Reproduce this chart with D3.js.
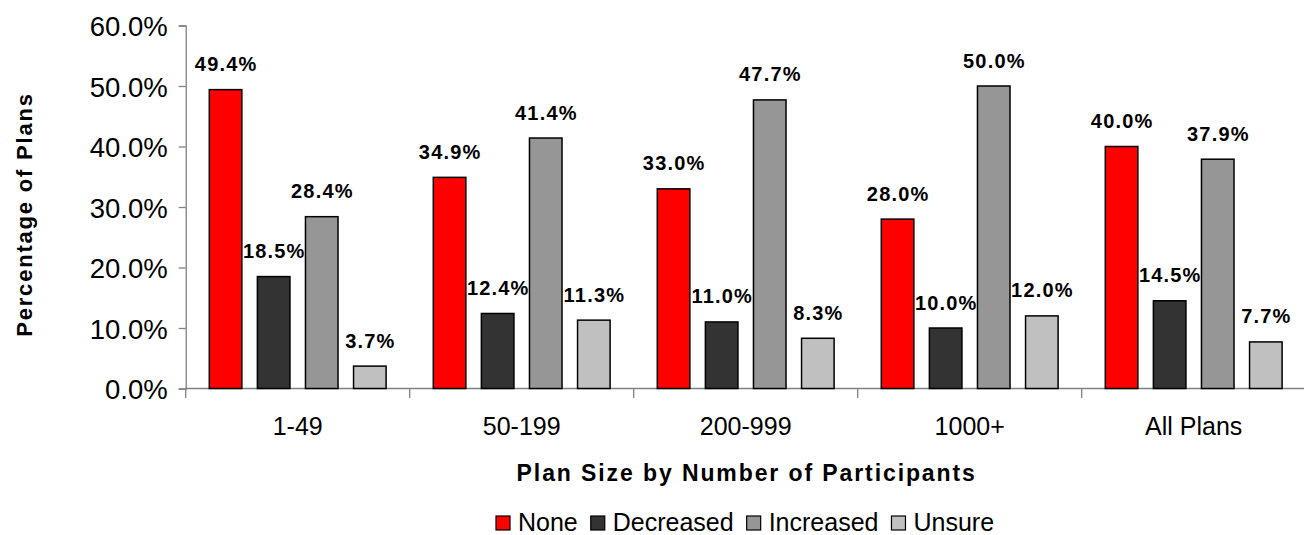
<!DOCTYPE html>
<html>
<head>
<meta charset="utf-8">
<script src="https://cdn.jsdelivr.net/npm/d3@7"></script>
<style>
  html, body { margin: 0; padding: 0; background: #fff; }
  svg { display: block; }
  text { font-family: "Liberation Sans", Arial, sans-serif; fill: #000; }
</style>
</head>
<body>
<svg id="chart" width="1304" height="535"></svg>
<script>
const categories = ["1-49", "50-199", "200-999", "1000+", "All Plans"];
const seriesNames = ["None", "Decreased", "Increased", "Unsure"];
const noneValues = [49.4, 34.9, 33.0, 28.0, 40.0];
const decreasedValues = [18.5, 12.4, 11.0, 10.0, 14.5];
const increasedValues = [28.4, 41.4, 47.7, 50.0, 37.9];
const unsureValues = [3.7, 11.3, 8.3, 12.0, 7.7];
const seriesColors = ["#FF0000", "#333333", "#969696", "#C0C0C0"];
const yTicks = [0, 10, 20, 30, 40, 50, 60];
const xTitle = "Plan Size by Number of Participants";
const yTitle = "Percentage of Plans";

(function () {
const seriesValues = [noneValues, decreasedValues, increasedValues, unsureValues];
const rows = categories.map((c, i) => ({
  cat: c,
  vals: seriesNames.map((s, j) => ({ key: s, value: seriesValues[j][i], color: seriesColors[j] }))
}));

const svg = d3.select("#chart");
const pLeft = 185.7, pRight = 1305.7, pTop = 25.5, pBottom = 388.5;

const x0 = d3.scaleBand().domain(categories).range([pLeft, pRight]).padding(0);
const bw = x0.bandwidth();
const x1 = d3.scaleBand().domain(seriesNames).range([23.6, bw - 23.6]).paddingInner(0.323).paddingOuter(0);
const y = d3.scaleLinear().domain([0, 60]).range([pBottom, pTop]);

// Y axis
const yAxis = svg.append("g").attr("transform", `translate(${pLeft},0)`)
  .call(d3.axisLeft(y).tickValues(yTicks).tickFormat(d => d.toFixed(1) + "%").tickSize(7).tickPadding(11));
yAxis.select(".domain").attr("stroke", "#808080").attr("stroke-width", 1.3);
yAxis.selectAll(".tick line").attr("stroke", "#808080").attr("stroke-width", 1.3);
yAxis.selectAll(".tick text").attr("font-size", 27.5).attr("dy", "0.37em")
  .style("font-family", '"Liberation Sans", Arial, sans-serif').attr("fill", "#000");

// X axis line and ticks at band boundaries
const xg = svg.append("g");
xg.append("line").attr("x1", pLeft).attr("x2", 1304).attr("y1", pBottom).attr("y2", pBottom)
  .attr("stroke", "#808080").attr("stroke-width", 1.3);
const bounds = categories.map(c => x0(c));
xg.selectAll("line.tk").data(bounds).join("line").attr("class", "tk")
  .attr("x1", d => d).attr("x2", d => d).attr("y1", pBottom).attr("y2", pBottom + 9.5)
  .attr("stroke", "#808080").attr("stroke-width", 1.3);
xg.selectAll("text.cat").data(categories).join("text").attr("class", "cat")
  .attr("x", d => x0(d) + bw / 2).attr("y", 435).attr("text-anchor", "middle")
  .attr("font-size", 25).text(d => d);

// Bars
const groups = svg.append("g").selectAll("g").data(rows).join("g")
  .attr("transform", d => `translate(${x0(d.cat)},0)`);
groups.selectAll("rect").data(d => d.vals).join("rect")
  .attr("x", d => x1(d.key)).attr("width", x1.bandwidth())
  .attr("y", d => y(d.value)).attr("height", d => y(0) - y(d.value))
  .attr("fill", d => d.color).attr("stroke", "#000").attr("stroke-width", 1.5);
groups.selectAll("text").data(d => d.vals).join("text")
  .attr("x", d => x1(d.key) + x1.bandwidth() / 2 + 0.6).attr("y", d => y(d.value) - 18.5)
  .attr("text-anchor", "middle").attr("font-size", 20).attr("font-weight", "bold")
  .attr("letter-spacing", "1.2px")
  .text(d => d.value.toFixed(1) + "%");

// Axis titles
svg.append("text").attr("x", (pLeft + pRight) / 2 + 1).attr("y", 481)
  .attr("text-anchor", "middle").attr("font-size", 23).attr("font-weight", "bold")
  .attr("letter-spacing", "1.9px").text(xTitle);
svg.append("text").attr("transform", "translate(32,214.5) rotate(-90)")
  .attr("text-anchor", "middle").attr("font-size", 22).attr("font-weight", "bold")
  .attr("letter-spacing", "1.8px").text(yTitle);

// Legend
const legend = svg.append("g");
let lx = 496;
seriesNames.forEach((s, j) => {
  legend.append("rect").attr("x", lx).attr("y", 516).attr("width", 14).attr("height", 14)
    .attr("fill", seriesColors[j]).attr("stroke", "#000").attr("stroke-width", 1.2);
  const t = legend.append("text").attr("x", lx + 22).attr("y", 531).attr("font-size", 25).text(s);
  lx += 22 + t.node().getComputedTextLength() + 13;
});
})();
</script>
</body>
</html>
